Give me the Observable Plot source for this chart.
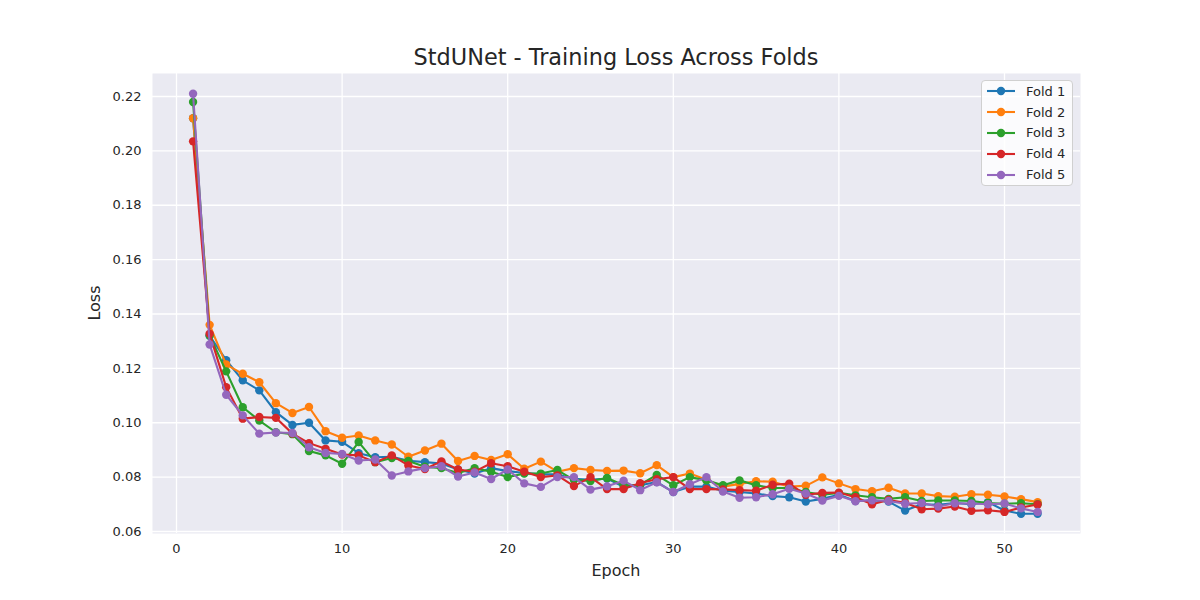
<!DOCTYPE html>
<html><head><meta charset="utf-8">
<script src="https://cdn.jsdelivr.net/npm/d3@7"></script>
<script src="https://cdn.jsdelivr.net/npm/@observablehq/plot@0.6"></script>
<style>
body{margin:0;background:#fff;font-family:"DejaVu Sans",sans-serif;color:#262626;}
#wrap{position:relative;width:1200px;height:600px;overflow:hidden;}
#title{position:absolute;left:152px;width:928px;top:44px;text-align:center;font-size:22.4px;line-height:26px;}
#xlabel{position:absolute;left:152px;width:928px;top:561px;text-align:center;font-size:16px;line-height:20px;}
#ylabel{position:absolute;left:95px;top:303px;font-size:16px;line-height:20px;transform:translate(-50%,-50%) rotate(-90deg);white-space:nowrap;}
#legend{position:absolute;left:981px;top:80px;width:92px;height:106px;background:rgba(255,255,255,0.8);border:1px solid #d0d0d0;border-radius:4px;box-sizing:border-box;padding-top:0px;}
.row{height:20.8px;display:flex;align-items:center;font-size:13px;}
.row svg{margin-left:5px;margin-right:11px;}
</style></head>
<body><div id="wrap">
<div id="title">StdUNet - Training Loss Across Folds</div>
<div id="xlabel">Epoch</div>
<div id="ylabel">Loss</div>
<div id="legend"></div>
</div>
<script>
const epochs = d3.range(1, 53);
const foldNames = ["Fold 1", "Fold 2", "Fold 3", "Fold 4", "Fold 5"];
const foldColors = ["#1f77b4", "#ff7f0e", "#2ca02c", "#d62728", "#9467bd"];
const xTicks = [0, 10, 20, 30, 40, 50];
const yTicks = [0.06, 0.08, 0.10, 0.12, 0.14, 0.16, 0.18, 0.20, 0.22];

const fold1 = [0.212,0.132,0.123,0.1156,0.1119,0.1039,0.0992,0.1000,0.0935,0.0930,0.0888,0.0873,0.0875,0.0860,0.0855,0.0850,0.0828,0.0813,0.0833,0.0822,0.0815,0.0810,0.0810,0.0794,0.0790,0.0795,0.0764,0.0770,0.0782,0.0745,0.0765,0.0765,0.0750,0.0745,0.0740,0.0730,0.0726,0.0710,0.0720,0.0735,0.0712,0.0715,0.0710,0.0677,0.0700,0.0698,0.0705,0.0700,0.0708,0.0677,0.0665,0.0665];
const fold2 = [0.212,0.136,0.1214,0.118,0.1149,0.1072,0.1036,0.1058,0.0969,0.0945,0.0953,0.0935,0.0920,0.0875,0.0898,0.0923,0.0859,0.0878,0.0863,0.0884,0.0831,0.0857,0.0820,0.0833,0.0826,0.0823,0.0824,0.0814,0.0844,0.0800,0.0813,0.0790,0.0765,0.0775,0.0785,0.0783,0.0765,0.0768,0.0799,0.0777,0.0756,0.0748,0.0761,0.0740,0.0740,0.0730,0.0728,0.0737,0.0735,0.0729,0.0719,0.0708];
const fold3 = [0.218,0.1321,0.1189,0.1057,0.1008,0.0965,0.0958,0.0896,0.0880,0.0849,0.0929,0.0855,0.0870,0.0859,0.0838,0.0833,0.0815,0.0833,0.0820,0.0800,0.0813,0.0813,0.0826,0.0790,0.0786,0.0797,0.0770,0.0772,0.0808,0.0770,0.0800,0.0788,0.0770,0.0788,0.0770,0.0760,0.0760,0.0745,0.0735,0.0742,0.0733,0.0726,0.0720,0.0726,0.0712,0.0714,0.0714,0.0712,0.0705,0.0702,0.0704,0.0700];
const fold4 = [0.2035,0.1327,0.1131,0.1015,0.1021,0.1018,0.0960,0.0925,0.0904,0.0883,0.0880,0.0855,0.0880,0.0843,0.0830,0.0858,0.0828,0.0820,0.0851,0.0840,0.0820,0.0800,0.0806,0.0767,0.0800,0.0756,0.0756,0.0778,0.0792,0.0800,0.0756,0.0756,0.0755,0.0752,0.0750,0.0772,0.0776,0.0735,0.0742,0.0743,0.0726,0.0700,0.0716,0.0706,0.0682,0.0684,0.0692,0.0676,0.0678,0.0672,0.0688,0.0699];
const fold5 = [0.221,0.1288,0.1103,0.1027,0.0960,0.0964,0.0962,0.0910,0.0889,0.0885,0.0861,0.0865,0.0806,0.0821,0.0833,0.0840,0.0802,0.0817,0.0793,0.0828,0.0777,0.0764,0.0800,0.0800,0.0754,0.0766,0.0787,0.0752,0.0781,0.0745,0.0774,0.0800,0.0747,0.0724,0.0726,0.0737,0.0757,0.0740,0.0714,0.0731,0.0711,0.0715,0.0712,0.0702,0.0705,0.0692,0.0704,0.0703,0.0700,0.0703,0.0685,0.0672];
const series = [fold1, fold2, fold3, fold4, fold5];

const marks = [
  Plot.frame({fill: "#eaeaf2", stroke: "none"}),
  Plot.gridX({ticks: xTicks, stroke: "white", strokeOpacity: 1, strokeWidth: 1.3}),
  Plot.gridY({ticks: yTicks, stroke: "white", strokeOpacity: 1, strokeWidth: 1.3}),
  Plot.axisX({ticks: xTicks, tickSize: 0, tickPadding: 10, fontSize: 13, label: null}),
  Plot.axisY({ticks: yTicks, tickSize: 0, tickPadding: 11, fontSize: 13, tickFormat: d3.format(".2f"), label: null})
];
series.forEach((vals, i) => {
  const rows = vals.map((v, j) => ({epoch: epochs[j], loss: v}));
  marks.push(Plot.line(rows, {x: "epoch", y: "loss", stroke: foldColors[i], strokeWidth: 2.1}));
  marks.push(Plot.dot(rows, {x: "epoch", y: "loss", fill: foldColors[i], r: 4.2, stroke: "none"}));
});

const chart = Plot.plot({
  width: 1200, height: 600,
  marginLeft: 152, marginRight: 120, marginTop: 73, marginBottom: 67,
  x: {domain: [-1.45, 54.59]},
  y: {domain: [0.05926, 0.22846]},
  style: {fontFamily: "DejaVu Sans", fontSize: "13px", color: "#262626", background: "white"},
  marks
});
document.getElementById("wrap").prepend(chart);

const legend = document.getElementById("legend");
foldNames.forEach((name, i) => {
  const row = document.createElement("div");
  row.className = "row";
  row.innerHTML = `<svg width="28" height="10"><line x1="0" y1="5" x2="28" y2="5" stroke="${foldColors[i]}" stroke-width="2.1"/><circle cx="14" cy="5" r="4.2" fill="${foldColors[i]}"/></svg><span>${name}</span>`;
  legend.appendChild(row);
});
</script>
</body></html>
